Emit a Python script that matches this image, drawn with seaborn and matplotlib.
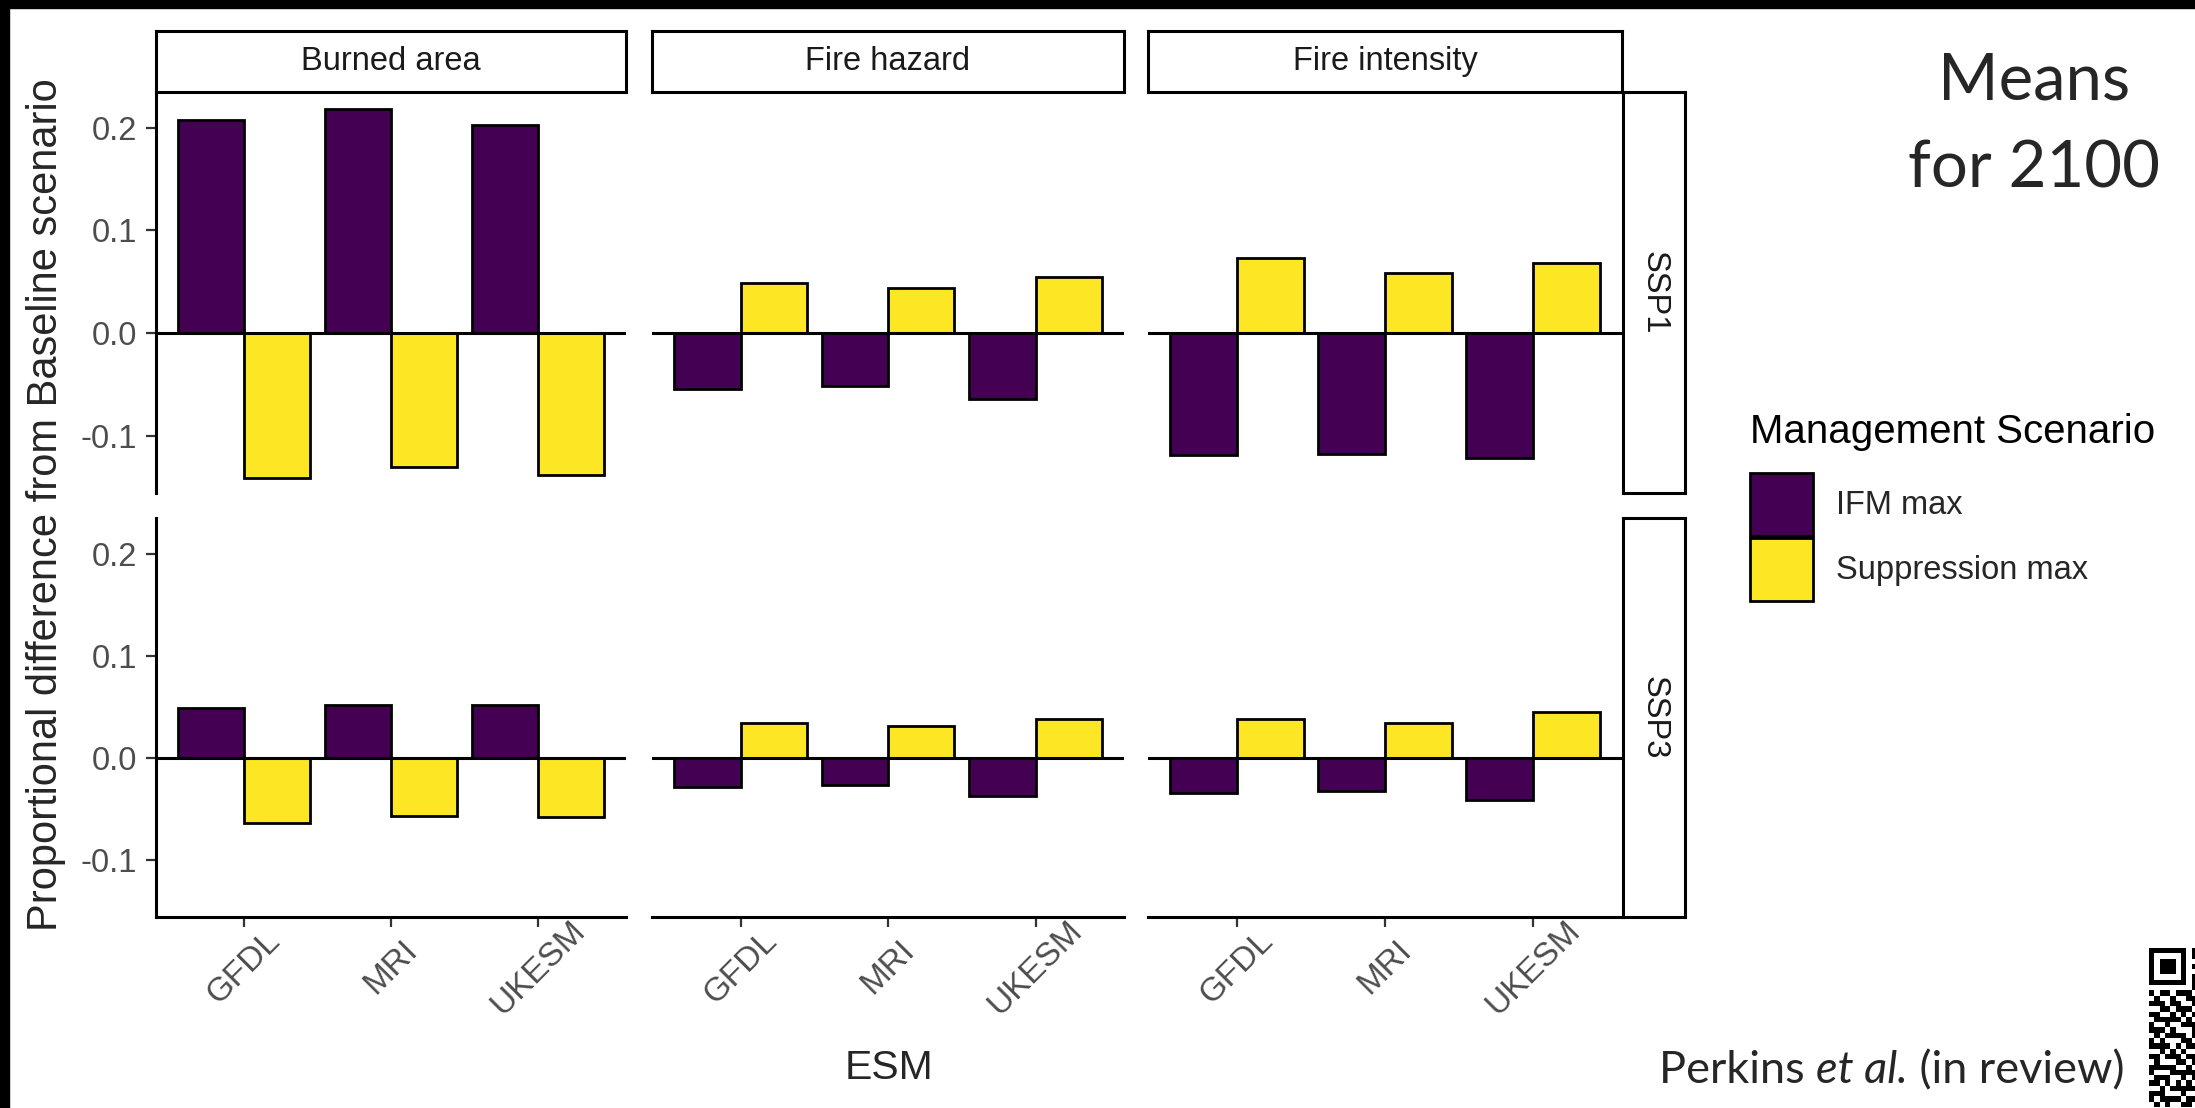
import numpy as np
import pandas as pd
import matplotlib
matplotlib.use("Agg")
import matplotlib.pyplot as plt
from matplotlib.patches import Rectangle
import seaborn as sns

# valeurs (ordre : Burned area, Fire hazard, Fire intensity x GFDL, MRI, UKESM)
esm = ["GFDL", "MRI", "UKESM"]
metrics = ["Burned area", "Fire hazard", "Fire intensity"]
ssps = ["SSP1", "SSP3"]
scenarios = ["IFM max", "Suppression max"]

ssp1_ifm = [0.208, 0.218, 0.203, -0.055, -0.052, -0.064, -0.119, -0.118, -0.122]
ssp1_supp = [-0.141, -0.131, -0.138, 0.049, 0.044, 0.055, 0.073, 0.059, 0.068]
ssp3_ifm = [0.049, 0.052, 0.052, -0.029, -0.027, -0.037, -0.034, -0.033, -0.041]
ssp3_supp = [-0.064, -0.057, -0.058, 0.034, 0.031, 0.038, 0.038, 0.034, 0.045]

yticks = [0.2, 0.1, 0.0, -0.1]
ytick_labels = ["0.2", "0.1", "0.0", "-0.1"]

colors = {"IFM max": "#440154", "Suppression max": "#FDE725"}

# mise en forme longue pour seaborn
values = {("SSP1", "IFM max"): ssp1_ifm, ("SSP1", "Suppression max"): ssp1_supp,
          ("SSP3", "IFM max"): ssp3_ifm, ("SSP3", "Suppression max"): ssp3_supp}
records = []
for (ssp, scen), vals in values.items():
    for k, v in enumerate(vals):
        records.append({"SSP": ssp, "Scenario": scen, "Metric": metrics[k // 3],
                        "ESM": esm[k % 3], "value": v})
df = pd.DataFrame(records)

sns.set_style("white")
plt.rcParams["font.family"] = ["Liberation Sans", "DejaVu Sans"]
plt.rcParams["axes.unicode_minus"] = False

W, H = 2195, 1108
fig = plt.figure(figsize=(W / 100, H / 100), dpi=100)
fig.patch.set_facecolor("white")


def box(x0, y0, x1, y1):
    # pixels (haut-gauche) -> fraction de figure
    return [x0 / W, 1 - y1 / H, (x1 - x0) / W, (y1 - y0) / H]


cols = [(156, 626), (652, 1124), (1148, 1622)]
rows = [(92, 493), (518, 917)]
lw_axis = 2.2

axes = {}
for i, ssp in enumerate(ssps):
    for j, metric in enumerate(metrics):
        ax = fig.add_axes(box(cols[j][0], rows[i][0], cols[j][1], rows[i][1]))
        sub = df[(df["SSP"] == ssp) & (df["Metric"] == metric)]
        sns.barplot(data=sub, x="ESM", y="value", hue="Scenario", order=esm,
                    hue_order=scenarios, palette=colors, edgecolor="black",
                    linewidth=2.0, width=0.9, saturation=1, errorbar=None,
                    legend=(i == 0 and j == 0), ax=ax)
        ax.axhline(0, color="black", lw=lw_axis, zorder=3)
        ax.set_xlim(-0.6, 2.6)
        ax.set_ylim(-0.156, 0.235)
        ax.set_xlabel("")
        ax.set_ylabel("")
        ax.set_facecolor("white")
        for s in ["top", "right", "left", "bottom"]:
            ax.spines[s].set_visible(False)
        ax.tick_params(colors="#333333", labelcolor="#4D4D4D", labelsize=23.5,
                       width=1.6, length=7.5)
        if j == 0:
            ax.spines["left"].set_visible(True)
            ax.spines["left"].set_linewidth(lw_axis)
            ax.spines["left"].set_color("black")
            ax.set_yticks(yticks)
            ax.set_yticklabels(ytick_labels)
            ax.tick_params(axis="y", left=True, pad=6)
        else:
            ax.set_yticks([])
        if i == 1:
            ax.spines["bottom"].set_visible(True)
            ax.spines["bottom"].set_linewidth(lw_axis)
            ax.spines["bottom"].set_color("black")
            ax.tick_params(axis="x", bottom=True, pad=29, labelsize=24)
            for lab in ax.get_xticklabels():
                lab.set_rotation(45)
                lab.set_ha("center")
                lab.set_va("center")
                lab.set_rotation_mode("anchor")
        else:
            ax.set_xticks([])
        axes[(i, j)] = ax

# bandeaux des facettes
for j, metric in enumerate(metrics):
    sax = fig.add_axes(box(cols[j][0], 31, cols[j][1], 92))
    sax.set_xticks([])
    sax.set_yticks([])
    for s in sax.spines.values():
        s.set_linewidth(lw_axis)
        s.set_color("black")
    sax.text(0.5, 0.5, metric, ha="center", va="center", fontsize=23.5,
             color="#1A1A1A", transform=sax.transAxes)

for i, ssp in enumerate(ssps):
    sax = fig.add_axes(box(1623, rows[i][0], 1685, rows[i][1]))
    sax.set_xticks([])
    sax.set_yticks([])
    for s in sax.spines.values():
        s.set_linewidth(lw_axis)
        s.set_color("black")
    sax.text(0.5, 0.5, ssp, ha="center", va="center", fontsize=23.5, rotation=-90,
             color="#1A1A1A", transform=sax.transAxes)

# légende
handles, labels = axes[(0, 0)].get_legend_handles_labels()
axes[(0, 0)].legend_.remove()
fig.legend(handles, labels, loc="upper left", bbox_to_anchor=(1750 / W, 1 - 473 / H),
           frameon=False, fontsize=23.5, handlelength=1.93, handleheight=2.59,
           labelspacing=0.05, handletextpad=0.72, borderpad=0, borderaxespad=0)
fig.text(1750 / W, 1 - 443 / H, "Management Scenario", fontsize=29, ha="left",
         va="baseline", color="black")

# titres des axes
fig.text(46 / W, 1 - 505 / H, "Proportional difference from Baseline scenario",
         rotation=90, fontsize=30, ha="center", va="center")
fig.text(889 / W, 1 - 1068 / H, "ESM", fontsize=29.5, ha="center", va="center")

# textes de la diapo
fig.text(2034 / W, 1 - 99 / H, "Means", fontsize=47, family="Lato", ha="center", va="baseline")
fig.text(2034 / W, 1 - 188 / H, "for 2100", fontsize=47, family="Lato", ha="center", va="baseline")

renderer = fig.canvas.get_renderer()
x = 1659
for part, style in [("Perkins ", "normal"), ("et al.", "italic"), (" (in review)", "normal")]:
    t = fig.text(x / W, 1 - 1083 / H, part, fontsize=32.5, family="Lato", style=style,
                 ha="left", va="baseline")
    x += t.get_window_extent(renderer).width

# bandes noires du cadre
fig.add_artist(Rectangle((0, 1 - 8 / H), 1, 8 / H, transform=fig.transFigure,
                         color="black", zorder=10))
fig.add_artist(Rectangle((0, 0), 9 / W, 1, transform=fig.transFigure,
                         color="black", zorder=10))

# QR code (coupé au bord)
qr_rows = ["111111101", "100000101", "101110100", "101110101", "101110100",
           "100000101", "111111101", "000000001", "101101110", "010010011",
           "111011001", "001101110", "110010101", "011111010", "100100111",
           "111010001", "010111101", "101000110", "111101011", "001010100",
           "110111011", "010001101", "111110010", "100011111", "011100101",
           "110101010", "001011111", "111000100", "101111011", "010100110"]
qr = np.array([[int(c) for c in r] for r in qr_rows])
qax = fig.add_axes(box(2149, 948, 2149 + 9 * 5.3, 948 + 30 * 5.3))
qax.imshow(qr, cmap="gray_r", interpolation="nearest", aspect="auto")
qax.axis("off")

fig.savefig("out.png", dpi=100)
